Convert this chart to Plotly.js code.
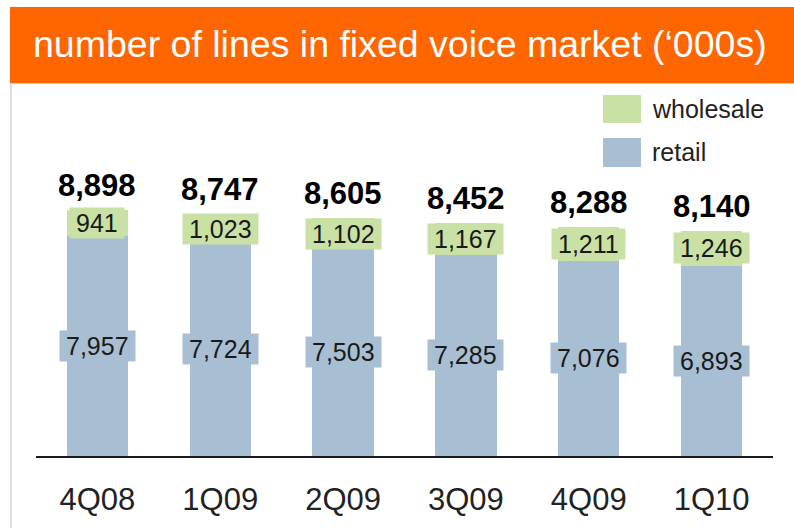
<!DOCTYPE html>
<html>
<head>
<meta charset="utf-8">
<script src="https://cdn.plot.ly/plotly-3.0.1.min.js"></script>
<style>
html,body{margin:0;padding:0;background:#fff;}
#chart{width:794px;height:528px;}
</style>
</head>
<body>
<div id="chart"></div>
<script>
// ---- data ----
const quarters = ['4Q08', '1Q09', '2Q09', '3Q09', '4Q09', '1Q10'];
const retail = [7957, 7724, 7503, 7285, 7076, 6893];
const wholesale = [941, 1023, 1102, 1167, 1211, 1246];
const totals = [8898, 8747, 8605, 8452, 8288, 8140];
const chartTitle = 'number of lines in fixed voice market (\u2018000s)';
const seriesNames = ['wholesale', 'retail'];

// ---- style ----
const W = 794, H = 528;
const M = {l: 36, r: 21, t: 100, b: 72};
const ORANGE = '#FF6600';
const GREEN = '#C9E1A4';
const BLUE = '#A7BED3';
const FONT = 'Liberation Sans, Arial, Helvetica, sans-serif';
const pw = W - M.l - M.r, ph = H - M.t - M.b;
const px2x = p => (p - M.l) / pw;
const py2y = p => (H - M.b - p) / ph;

const fmt = v => v.toLocaleString('en-US');
const pad = s => '\u2009' + s + '\u2009';

const traces = [
  {type: 'bar', x: quarters, y: retail, name: seriesNames[1],
   marker: {color: BLUE}, hoverinfo: 'skip'},
  {type: 'bar', x: quarters, y: wholesale, name: seriesNames[0],
   marker: {color: GREEN}, hoverinfo: 'skip'}
];

const annotations = [];
quarters.forEach((q, i) => {
  annotations.push({x: q, y: retail[i] / 2, xref: 'x', yref: 'y',
    text: pad(fmt(retail[i])), showarrow: false, bgcolor: BLUE, borderpad: 1,
    font: {family: FONT, size: 25, color: '#1a1a1a'}});
  annotations.push({x: q, y: retail[i] + wholesale[i] / 2, xref: 'x', yref: 'y',
    text: pad(fmt(wholesale[i])), showarrow: false, bgcolor: GREEN, borderpad: 1,
    font: {family: FONT, size: 25, color: '#1a1a1a'}});
  annotations.push({x: q, y: totals[i], xref: 'x', yref: 'y',
    text: '<b>' + fmt(totals[i]) + '</b>', showarrow: false, yanchor: 'bottom', yshift: 5,
    font: {family: FONT, size: 31, color: '#000'}});
});
// title
annotations.push({xref: 'paper', yref: 'paper', x: px2x(31), y: py2y(44),
  xanchor: 'left', yanchor: 'middle', text: chartTitle, showarrow: false,
  font: {family: FONT, size: 37.5, color: '#fff'}});
// legend text
annotations.push({xref: 'paper', yref: 'paper', x: px2x(650), y: py2y(109),
  xanchor: 'left', yanchor: 'middle', text: seriesNames[0], showarrow: false,
  font: {family: FONT, size: 25, color: '#222'}});
annotations.push({xref: 'paper', yref: 'paper', x: px2x(650), y: py2y(152),
  xanchor: 'left', yanchor: 'middle', text: seriesNames[1], showarrow: false,
  font: {family: FONT, size: 25, color: '#222'}});

const shapes = [
  {type: 'rect', xref: 'paper', yref: 'paper', x0: px2x(10), x1: px2x(794), y0: py2y(83), y1: py2y(7),
   fillcolor: ORANGE, line: {width: 0}, layer: 'below'},
  {type: 'line', xref: 'paper', yref: 'paper', x0: px2x(10), x1: px2x(794), y0: py2y(83.5), y1: py2y(83.5),
   line: {color: '#F8C7A2', width: 1}},
  {type: 'line', xref: 'paper', yref: 'paper', x0: px2x(11), x1: px2x(11), y0: py2y(84), y1: py2y(528),
   line: {color: '#DDDDDD', width: 2}},
  {type: 'rect', xref: 'paper', yref: 'paper', x0: px2x(603), x1: px2x(641), y0: py2y(123), y1: py2y(95),
   fillcolor: GREEN, line: {width: 0}},
  {type: 'rect', xref: 'paper', yref: 'paper', x0: px2x(603), x1: px2x(641), y0: py2y(167), y1: py2y(138),
   fillcolor: BLUE, line: {width: 0}}
];

const layout = {
  width: W, height: H, margin: M,
  paper_bgcolor: '#fff', plot_bgcolor: 'rgba(0,0,0,0)',
  barmode: 'stack', bargap: 0.5, showlegend: false,
  font: {family: FONT},
  xaxis: {type: 'category', range: [-0.5, 5.5], showline: true, linecolor: '#1a1a1a', linewidth: 1.5,
    ticks: '', showgrid: false, zeroline: false, ticklabelstandoff: 15,
    tickfont: {family: FONT, size: 31, color: '#222'}, fixedrange: true},
  yaxis: {range: [0, 36.2 * ph], visible: false, showgrid: false, zeroline: false, fixedrange: true},
  annotations: annotations, shapes: shapes
};

Plotly.newPlot('chart', traces, layout, {displayModeBar: false, staticPlot: true});
</script>
</body>
</html>
